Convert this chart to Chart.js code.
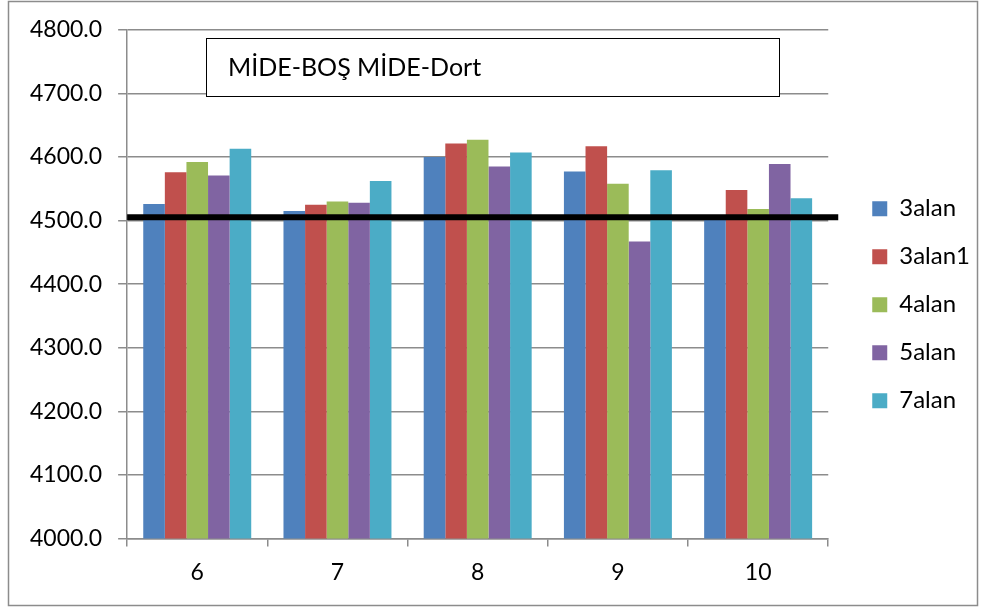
<!DOCTYPE html>
<html>
<head>
    <meta charset="UTF-8">
    <title>MİDE-BOŞ MİDE-Dort</title>
    <script src="https://cdn.jsdelivr.net/npm/chart.js"></script>
    <style>
        html, body { margin: 0; padding: 0; background: #fff; }
        #wrap { width: 986px; height: 608px; position: relative; }
    </style>
</head>
<body>
    <div id="wrap"><canvas id="chart"></canvas></div>

    <script>
        // veriler
        const categories = ['6', '7', '8', '9', '10'];
        const seriesNames = ['3alan', '3alan1', '4alan', '5alan', '7alan'];
        const alan3  = [4526, 4515, 4600, 4577, 4507];
        const alan3b = [4576, 4525, 4621, 4617, 4548];
        const alan4  = [4592, 4530, 4627, 4558, 4518];
        const alan5  = [4571, 4528, 4585, 4467, 4589];
        const alan7  = [4613, 4562, 4607, 4579, 4535];
        const refLine = 4505;
        const titleText = 'MİDE-BOŞ MİDE-Dort';
        const colors = ['#4F81BD', '#C0504D', '#9BBB59', '#8064A2', '#4BACC6'];

        const FONT = 'Lato, "Open Sans", sans-serif';
        const gray = '#8c8c8c';

        // çerçeve, başlık kutusu ve siyah çizgi
        const extras = {
            id: 'extras',
            afterLayout(chart) {
                // lejantı biraz sağa ve yukarı kaydır
                const lg = chart.legend;
                lg.left += 20; lg.right += 20;
                lg.top -= 4; lg.bottom -= 4;
            },
            afterDatasetsDraw(chart) {
                const ctx = chart.ctx;
                const area = chart.chartArea;
                const y = chart.scales.y.getPixelForValue(refLine);
                ctx.save();
                ctx.strokeStyle = '#000';
                ctx.lineWidth = 6;
                ctx.beginPath();
                ctx.moveTo(area.left, y);
                ctx.lineTo(area.right + 10, y);
                ctx.stroke();

                // başlık kutusu
                ctx.fillStyle = '#fff';
                ctx.fillRect(206, 38, 573, 58);
                ctx.strokeStyle = '#000';
                ctx.lineWidth = 1;
                ctx.strokeRect(206.5, 38.5, 573, 58);
                ctx.fillStyle = '#000';
                ctx.font = '25px ' + FONT;
                ctx.textBaseline = 'alphabetic';
                ctx.fillText(titleText, 228, 76);

                // dış çerçeve
                ctx.strokeStyle = gray;
                ctx.lineWidth = 1.5;
                ctx.strokeRect(8.5, 1.5, 969, 604);
                ctx.restore();
            }
        };

        const series = [alan3, alan3b, alan4, alan5, alan7];
        const ctx = document.getElementById('chart').getContext('2d');
        new Chart(ctx, {
            type: 'bar',
            data: {
                labels: categories,
                datasets: series.map((d, i) => ({
                    label: seriesNames[i],
                    data: d,
                    backgroundColor: colors[i],
                    borderWidth: 0,
                    barPercentage: 1,
                    categoryPercentage: 0.77
                }))
            },
            options: {
                responsive: true,
                maintainAspectRatio: false,
                animation: false,
                layout: { padding: { left: 14, right: 26, top: 19.5, bottom: 10 } },
                plugins: {
                    legend: {
                        position: 'right',
                        labels: {
                            boxWidth: 15,
                            boxHeight: 15,
                            padding: 24,
                            color: '#000',
                            font: { family: FONT, size: 24 }
                        }
                    },
                    tooltip: { enabled: false }
                },
                scales: {
                    x: {
                        grid: {
                            drawOnChartArea: false,
                            drawTicks: true,
                            tickLength: 8,
                            color: gray,
                            lineWidth: 1.5
                        },
                        border: { color: gray, width: 1.5 },
                        ticks: {
                            color: '#000',
                            padding: 12,
                            font: { family: FONT, size: 23 }
                        }
                    },
                    y: {
                        min: 4000,
                        max: 4800,
                        grid: {
                            color: gray,
                            lineWidth: 1.5,
                            tickLength: 9
                        },
                        border: { color: gray, width: 1.5 },
                        ticks: {
                            stepSize: 100,
                            color: '#000',
                            padding: 16,
                            font: { family: FONT, size: 23 },
                            callback: v => v.toFixed(1)
                        }
                    }
                }
            },
            plugins: [extras]
        });
    </script>
</body>
</html>
